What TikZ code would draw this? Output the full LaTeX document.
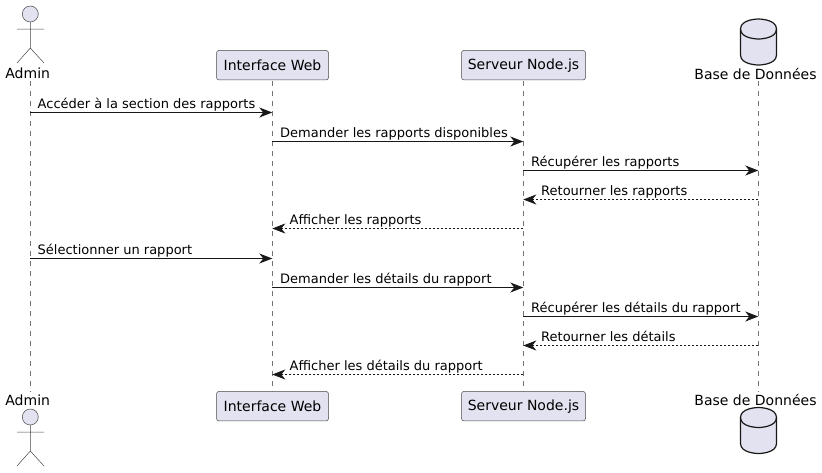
\documentclass[tikz,border=0pt]{standalone}
\usepackage{fontspec}
\setmainfont{DejaVu Sans}
\usetikzlibrary{arrows.meta}
\definecolor{pfill}{HTML}{E2E2F0}
\definecolor{pline}{HTML}{181818}
\tikzset{
  x=1pt,y=-1pt,
  lifeline/.style={draw=pline!60!white,line width=.5pt,dash pattern=on 5pt off 5pt},
  partbox/.style={draw=pline!80!white,fill=pfill,rounded corners=2.5pt,line width=.5pt,minimum height=29.5pt,inner sep=0pt,font=\fontsize{14}{16}\selectfont},
  actlabel/.style={inner sep=0pt,font=\fontsize{14}{16}\selectfont},
  msgtext/.style={inner sep=0pt,anchor=base west,yshift=-.8pt,font=\fontsize{13}{15}\selectfont,text=black},
  callmsg/.style={draw=pline,line width=1pt,-{Stealth[length=13pt,width=10pt,inset=4pt]}},
  retmsg/.style={draw=pline,line width=.8pt,dash pattern=on 2pt off 2pt,-{Stealth[length=13pt,width=10pt,inset=4pt]}},
  actorline/.style={draw=pline!80!white,line width=.5pt},
  actorhead/.style={draw=pline!80!white,fill=pfill,line width=.5pt},
  dbshape/.style={draw=pline,fill=pfill,line width=1.2pt}
}
\newcommand{\actorfig}[1]{%
  \draw[actorhead] (30.3,#1) circle (8);
  \draw[actorline] (30.3,#1+8) -- (30.3,#1+34) (17,#1+15) -- (44,#1+15)
    (17,#1+49) -- (30.3,#1+34) -- (44,#1+49);
}
\newcommand{\dbfig}[1]{%
  \draw[dbshape] (740.5,#1+10) .. controls (740.5,#1) and (758.5,#1) .. (758.5,#1)
    .. controls (758.5,#1) and (776.5,#1) .. (776.5,#1+10)
    -- (776.5,#1+36) .. controls (776.5,#1+46) and (758.5,#1+46) .. (758.5,#1+46)
    .. controls (758.5,#1+46) and (740.5,#1+46) .. (740.5,#1+36) -- cycle;
  \draw[dbshape,fill=none] (740.5,#1+10) .. controls (740.5,#1+20) and (758.5,#1+20) .. (758.5,#1+20)
    .. controls (758.5,#1+20) and (776.5,#1+20) .. (776.5,#1+10);
}
\begin{document}
\begin{tikzpicture}
\useasboundingbox (0,0) rectangle (822,472);
% lifeline ends
\coordinate (at) at (30.3,81); \coordinate (ab) at (30.3,392);
\coordinate (it) at (272.3,81); \coordinate (ib) at (272.3,392);
\coordinate (st) at (523.3,81); \coordinate (sb) at (523.3,392);
\coordinate (bt) at (758.3,81); \coordinate (bb) at (758.3,392);
\draw[lifeline] (at) -- (ab);
\draw[lifeline] (it) -- (ib);
\draw[lifeline] (st) -- (sb);
\draw[lifeline] (bt) -- (bb);
% top heads
\actorfig{14}
\node[actlabel] (admintop) at (27.7,73.5) {Admin};
\node[partbox,minimum width=112pt] (webtop) at (272.5,65.2) {Interface Web};
\node[partbox,minimum width=124pt] (srvtop) at (523.5,65.2) {Serveur Node.js};
\dbfig{19}
\node[actlabel] (dbtop) at (755.5,73.5) {Base de Données};
% bottom heads
\node[actlabel] (adminbot) at (27.7,400) {Admin};
\actorfig{417}
\node[partbox,minimum width=112pt] (webbot) at (272.5,406.2) {Interface Web};
\node[partbox,minimum width=124pt] (srvbot) at (523.5,406.2) {Serveur Node.js};
\node[actlabel] (dbbot) at (755.5,400) {Base de Données};
\dbfig{407.5}
% messages
\foreach \n/\y in {1/112.5,2/141.5,3/170.5,4/199.5,5/228.5,6/258.5,7/287.5,8/316.5,9/345.5,10/374.5}{
  \coordinate (a\n) at (30.3,\y);
  \coordinate (i\n) at (272.3,\y);
  \coordinate (s\n) at (523.3,\y);
  \coordinate (b\n) at (758.3,\y);
}
\draw[callmsg] (a1) -- (i1);
\node[msgtext] (m1) at (37.5,107.5) {Accéder à la section des rapports};
\draw[callmsg] (i2) -- (s2);
\node[msgtext] (m2) at (280,136.5) {Demander les rapports disponibles};
\draw[callmsg] (s3) -- (b3);
\node[msgtext] (m3) at (531,165.5) {Récupérer les rapports};
\draw[retmsg] (b4) -- (s4);
\node[msgtext] (m4) at (541,194.5) {Retourner les rapports};
\draw[retmsg] (s5) -- (i5);
\node[msgtext] (m5) at (289.5,223.5) {Afficher les rapports};
\draw[callmsg] (a6) -- (i6);
\node[msgtext] (m6) at (37.5,253.5) {Sélectionner un rapport};
\draw[callmsg] (i7) -- (s7);
\node[msgtext] (m7) at (280,282.5) {Demander les détails du rapport};
\draw[callmsg] (s8) -- (b8);
\node[msgtext] (m8) at (531,311.5) {Récupérer les détails du rapport};
\draw[retmsg] (b9) -- (s9);
\node[msgtext] (m9) at (541,340.5) {Retourner les détails};
\draw[retmsg] (s10) -- (i10);
\node[msgtext] (m10) at (289.5,369.5) {Afficher les détails du rapport};
\end{tikzpicture}
\end{document}
